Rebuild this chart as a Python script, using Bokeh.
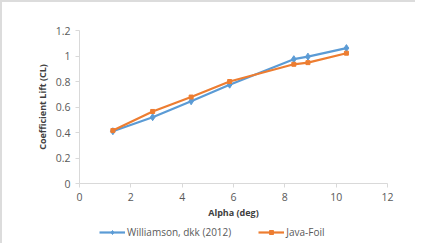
from bokeh.plotting import figure
from bokeh.layouts import column
from bokeh.models import Legend, LegendItem, FixedTicker, Range1d
from bokeh.embed import file_html
from bokeh.resources import INLINE

alpha_w = [1.3, 2.85, 4.35, 5.85, 8.35, 8.9, 10.4]
cl_w = [0.41, 0.52, 0.645, 0.775, 0.975, 0.995, 1.062]
alpha_j = [1.3, 2.85, 4.35, 5.85, 8.35, 8.9, 10.4]
cl_j = [0.415, 0.565, 0.678, 0.80, 0.935, 0.948, 1.022]
x_ticks = [0, 2, 4, 6, 8, 10, 12]
y_ticks = [0, 0.2, 0.4, 0.6, 0.8, 1.0, 1.2]
names = ["Williamson, dkk (2012)", "Java-Foil"]

FONT = "Open Sans"
GRAY = "#595959"
BLUE = "#5B9BD5"
ORANGE = "#ED7D31"

p = figure(width=415, height=219, output_backend="svg", toolbar_location=None,
           x_range=Range1d(0, 12), y_range=Range1d(0, 1.2),
           min_border_left=77, min_border_right=30, min_border_top=28, min_border_bottom=38)
p.styles = {"border-top": "2px solid #dcdcdc", "border-left": "2px solid #dcdcdc"}
p.outline_line_color = None
p.grid.visible = False

for ax in (p.xaxis[0], p.yaxis[0]):
    ax.axis_line_color = "#d9d9d9"
    ax.major_tick_line_color = "#d9d9d9"
    ax.minor_tick_line_color = None
    ax.major_tick_in = 0
    ax.major_tick_out = 4
    ax.major_label_text_font = FONT
    ax.major_label_text_font_size = "10.5px"
    ax.major_label_text_color = GRAY
    ax.axis_label_text_font = FONT
    ax.axis_label_text_font_size = "9px"
    ax.axis_label_text_font_style = "bold"
    ax.axis_label_text_color = "#404040"

p.xaxis.ticker = FixedTicker(ticks=x_ticks)
p.yaxis.ticker = FixedTicker(ticks=y_ticks)
p.xaxis.major_label_overrides = {t: str(t) for t in x_ticks}
p.yaxis.major_label_overrides = {t: ("%g" % t) for t in y_ticks}
p.xaxis.axis_label = "Alpha (deg)"
p.yaxis.axis_label = "Coefficient Lift (CL)"
p.xaxis.axis_label_standoff = 2
p.yaxis.axis_label_standoff = 4
p.xaxis.major_label_standoff = 5

p.line(alpha_w, cl_w, line_color=BLUE, line_width=2.2)
p.scatter(alpha_w, cl_w, marker="diamond", size=7, fill_color=BLUE, line_color=BLUE)
p.line(alpha_j, cl_j, line_color=ORANGE, line_width=2.2)
p.scatter(alpha_j, cl_j, marker="square", size=4, fill_color=ORANGE, line_color=ORANGE)

# legend strip below the chart (its series lie outside its view range)
q = figure(width=415, height=24, output_backend="svg", toolbar_location=None,
           x_range=Range1d(-2, -1), y_range=Range1d(-2, -1),
           x_axis_location=None, y_axis_location=None,
           min_border_left=0, min_border_right=0, min_border_top=0, min_border_bottom=0)
q.styles = {"border-left": "2px solid #dcdcdc"}
q.outline_line_color = None
q.grid.visible = False
ql1 = q.line(alpha_w, cl_w, line_color=BLUE, line_width=2.2)
qm1 = q.scatter(alpha_w, cl_w, marker="diamond", size=7, fill_color=BLUE, line_color=BLUE)
ql2 = q.line(alpha_j, cl_j, line_color=ORANGE, line_width=2.2)
qm2 = q.scatter(alpha_j, cl_j, marker="square", size=4, fill_color=ORANGE, line_color=ORANGE)

legend = Legend(items=[LegendItem(label=names[0], renderers=[ql1, qm1]),
                       LegendItem(label=names[1], renderers=[ql2, qm2])],
                orientation="horizontal", location=(20, 4),
                label_text_font=FONT, label_text_font_size="10px",
                label_text_color=GRAY, glyph_width=26, glyph_height=10,
                label_height=10, spacing=27, padding=0, margin=0, label_standoff=2,
                background_fill_alpha=0, border_line_color=None)
q.add_layout(legend, "center")

layout = column(p, q, spacing=0)
open("out.html", "w").write(file_html(layout, INLINE))
